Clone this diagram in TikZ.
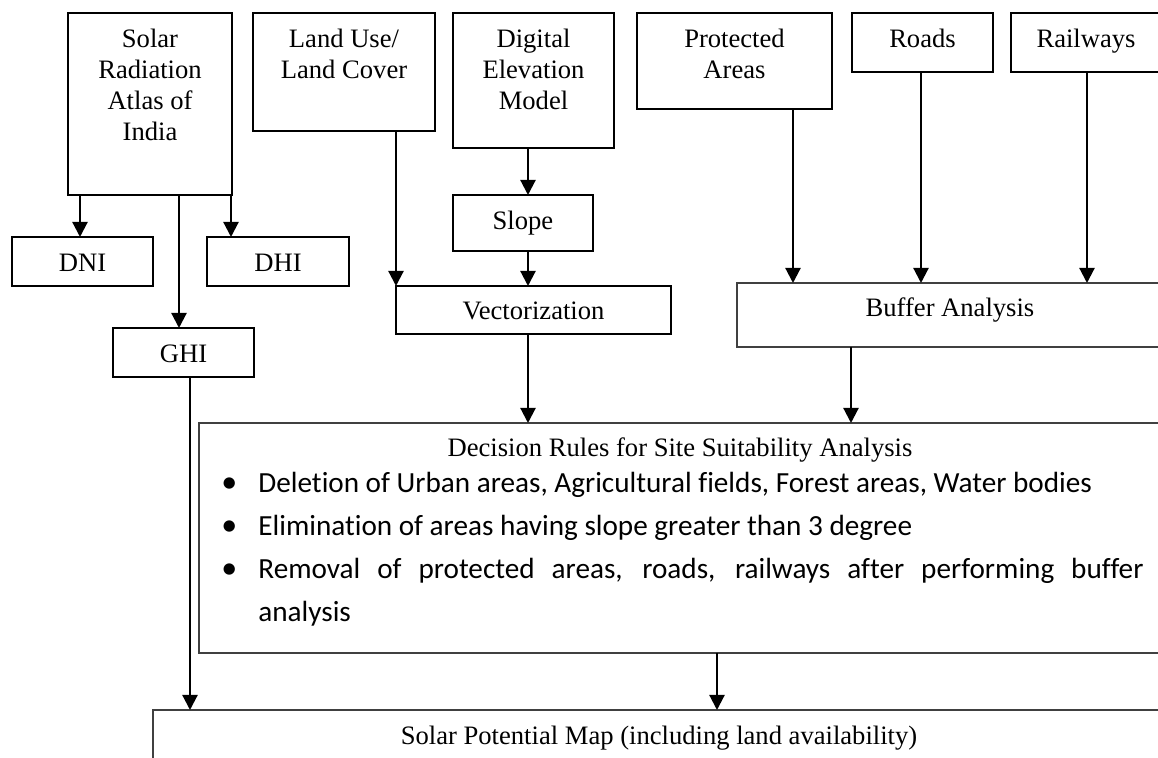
\documentclass[tikz,border=0pt]{standalone}
\usepackage{fontspec}
\setmainfont{Liberation Serif}
\newfontfamily\calfont[Ligatures={NoCommon,NoContextual}]{Carlito}
\usetikzlibrary{arrows.meta,fit}
\begin{document}
\begin{tikzpicture}[x=0.5pt,y=-0.5pt,
  box/.style={draw=black, line width=0.65pt, inner sep=0pt, outer sep=0pt},
  gbox/.style={draw=black!75, line width=0.75pt, inner sep=0pt, outer sep=0pt},
  txt/.style={inner sep=0pt, anchor=base, font=\fontsize{13.3}{15.35}\selectfont},
  arr/.style={line width=1.1pt, -{Triangle[length=7.5pt,width=7.5pt]}},
  ln/.style={line width=1.1pt}]
\useasboundingbox (0,0) rectangle (1158,758);
\clip (0,0) rectangle (1158,758);
% boxes
\node[box, fit={(68,13) (232,195)}] (solar) {};
\node[box, fit={(253,13) (435,131)}] (landuse) {};
\node[box, fit={(453,13) (614,148)}] (dem) {};
\node[box, fit={(637,13) (832,109)}] (protected) {};
\node[box, fit={(852,13) (993,72)}] (roads) {};
\node[box, fit={(1011,13) (1161,72)}] (railways) {};
\node[box, fit={(12,237) (153,286)}] (dni) {};
\node[box, fit={(207,237) (349,286)}] (dhi) {};
\node[box, fit={(453,195) (593,251)}] (slope) {};
\node[box, fit={(113,328) (254,377)}] (ghi) {};
\node[box, fit={(396,286) (671,334)}] (vector) {};
\node[gbox, fit={(737,283) (1163,347)}] (buffer) {};
\node[gbox, fit={(199,423) (1161,653)}] (decision) {};
\node[gbox, fit={(153,710) (1165,775)}] (solarmap) {};
% texts
\node[txt] (solar-t) at (150,48) {\begin{tabular}[t]{@{}c@{}}Solar\\Radiation\\Atlas of\\India\end{tabular}};
\node[txt] (landuse-t) at (344,48) {\begin{tabular}[t]{@{}c@{}}Land Use/\\Land Cover\end{tabular}};
\node[txt] (dem-t) at (533.5,48) {\begin{tabular}[t]{@{}c@{}}Digital\\Elevation\\Model\end{tabular}};
\node[txt] (protected-t) at (734.5,48) {\begin{tabular}[t]{@{}c@{}}Protected\\Areas\end{tabular}};
\node[txt] (roads-t) at (922.5,48) {Roads};
\node[txt] (railways-t) at (1086,48) {Railways};
\node[txt] (dni-t) at (82.5,272) {DNI};
\node[txt] (dhi-t) at (278,272) {DHI};
\node[txt] (slope-t) at (523,230) {Slope};
\node[txt] (ghi-t) at (183.5,363) {GHI};
\node[txt] (vector-t) at (533.5,320) {Vectorization};
\node[txt] (buffer-t) at (950,317) {Buffer Analysis};
\node[txt] (decision-t) at (680,457) {Decision Rules for Site Suitability Analysis};
\node[txt] (solarmap-t) at (659,745) {Solar Potential Map (including land availability)};
\node[inner sep=0pt, anchor=base west] (rules) at (221,493) {\calfont\fontsize{14.6}{21.5}\selectfont
  \begin{tabular}[t]{@{}l@{}}
  \makebox[18.5pt][l]{\fontsize{16}{16}\selectfont•}Deletion of Urban areas, Agricultural fields, Forest areas, Water bodies\\
  \makebox[18.5pt][l]{\fontsize{16}{16}\selectfont•}Elimination of areas having slope greater than 3 degree\\
  \makebox[18.5pt][l]{\fontsize{16}{16}\selectfont•}\makebox[442.5pt][s]{Removal of protected areas, roads, railways after performing buffer}\\
  \hspace*{18.5pt}analysis
  \end{tabular}};
% connectors
\draw[arr] ([xshift=-1.25pt]dni.north |- solar.south) -- ([xshift=-1.25pt]dni.north);
\draw[arr] ([xshift=-2.25pt]ghi.north |- solar.south) -- ([xshift=-2.25pt]ghi.north);
\draw[arr] ([xshift=-0.5pt]solar.south east) -- ([xshift=-0.5pt]solar.south east |- dhi.north);
\draw[arr] (vector.north west |- landuse.south) -- (vector.north west);
\draw[arr] ([xshift=-2.75pt]dem.south) -- ([xshift=-2.75pt]dem.south |- slope.north);
\draw[arr] ([xshift=2.5pt]slope.south) -- ([xshift=2.5pt]slope.south |- vector.north);
\draw[arr] ([xshift=-2.75pt]vector.south) -- ([xshift=-2.75pt]vector.south |- decision.north);
\draw[arr] ([xshift=29.25pt]protected.south) -- ([xshift=29.25pt]protected.south |- buffer.north);
\draw[arr] ([xshift=-0.75pt]roads.south) -- ([xshift=-0.75pt]roads.south |- buffer.north);
\draw[arr] ([xshift=0.5pt]railways.south) -- ([xshift=0.5pt]railways.south |- buffer.north);
\draw[arr] ([xshift=-49.5pt]buffer.south) -- ([xshift=-49.5pt]buffer.south |- decision.north);
\draw[arr] ([xshift=3.25pt]ghi.south) -- ([xshift=3.25pt]ghi.south |- solarmap.north);
\draw[arr] ([xshift=18.5pt]decision.south) -- ([xshift=18.5pt]decision.south |- solarmap.north);
\end{tikzpicture}
\end{document}
